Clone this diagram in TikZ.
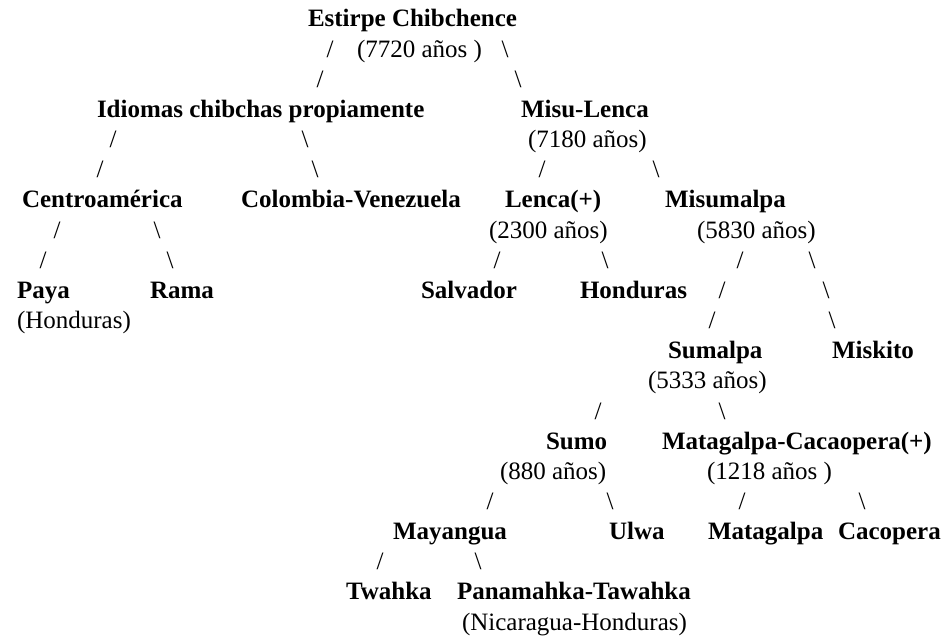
\documentclass[tikz,border=0pt]{standalone}
\usepackage{fontspec}
\setmainfont{Liberation Serif}

\begin{document}
\begin{tikzpicture}[x=1pt, y=-1pt,
  every node/.style = {inner sep=0pt, outer sep=0pt, anchor=base west,
    font=\fontsize{25}{30}\selectfont},
  lang/.style = {font=\fontsize{25}{30}\selectfont\bfseries},
  sl/.style = {anchor=base}]
  \useasboundingbox (0,0) rectangle (944,637);

  % root
  \node[lang] (estirpe) at (308,27) {Estirpe Chibchence};
  \node (estirpe-age) at (357,57.2) {(7720 años )};
  \node[sl] (e1) at (330,57.2) {/};
  \node[sl] (e2) at (505,57.2) {\textbackslash};
  \node[sl] (e3) at (320,87.3) {/};
  \node[sl] (e4) at (518,87.3) {\textbackslash};

  % second level
  \node[lang] (idiomas) at (97,117.5) {Idiomas chibchas propiamente};
  \node[lang] (misu) at (521,117.5) {Misu-Lenca};
  \node (misu-age) at (528,147.6) {(7180 años)};
  \node[sl] (i1) at (113,147.6) {/};
  \node[sl] (i2) at (305,147.6) {\textbackslash};
  \node[sl] (i3) at (100,177.8) {/};
  \node[sl] (i4) at (315,177.8) {\textbackslash};
  \node[sl] (m1) at (542,177.8) {/};
  \node[sl] (m2) at (656,177.8) {\textbackslash};

  % third level
  \node[lang] (centro) at (22,207.9) {Centroamérica};
  \node[lang] (colven) at (241,207.9) {Colombia-Venezuela};
  \node[lang] (lenca) at (505,207.9) {Lenca(+)};
  \node[lang] (misum) at (665,207.9) {Misumalpa};
  \node (lenca-age) at (489,238.1) {(2300 años)};
  \node (misum-age) at (697,238.1) {(5830 años)};
  \node[sl] (c1) at (57,238.1) {/};
  \node[sl] (c2) at (157,238.1) {\textbackslash};
  \node[sl] (c3) at (43,268.2) {/};
  \node[sl] (c4) at (170,268.2) {\textbackslash};
  \node[sl] (l1) at (497,268.2) {/};
  \node[sl] (l2) at (605,268.2) {\textbackslash};
  \node[sl] (ms1) at (740,268.2) {/};
  \node[sl] (ms2) at (812,268.2) {\textbackslash};

  % leaves of the left part
  \node[lang] (paya) at (17,298.4) {Paya};
  \node (paya-loc) at (17,328.5) {(Honduras)};
  \node[lang] (rama) at (150,298.4) {Rama};
  \node[lang] (salv) at (421,298.4) {Salvador};
  \node[lang] (hond) at (580,298.4) {Honduras};
  \node[sl] (ms3) at (722,298.4) {/};
  \node[sl] (ms4) at (826,298.4) {\textbackslash};
  \node[sl] (ms5) at (712,328.5) {/};
  \node[sl] (ms6) at (832,328.5) {\textbackslash};

  % Misumalpa branch
  \node[lang] (sumalpa) at (668,358.7) {Sumalpa};
  \node[lang] (miskito) at (832,358.7) {Miskito};
  \node (sumalpa-age) at (648,388.8) {(5333 años)};
  \node[sl] (sa1) at (598,419) {/};
  \node[sl] (sa2) at (722,419) {\textbackslash};

  \node[lang] (sumo) at (546,449.1) {Sumo};
  \node[lang] (matcac) at (662,449.1) {Matagalpa-Cacaopera(+)};
  \node (sumo-age) at (500,479.3) {(880 años)};
  \node (matcac-age) at (707,479.3) {(1218 años )};
  \node[sl] (su1) at (490,509.4) {/};
  \node[sl] (su2) at (610,509.4) {\textbackslash};
  \node[sl] (mc1) at (742,509.4) {/};
  \node[sl] (mc2) at (862,509.4) {\textbackslash};

  \node[lang] (mayangua) at (393,539.6) {Mayangua};
  \node[lang] (ulwa) at (609,539.6) {Ulwa};
  \node[lang] (matagalpa) at (708,539.6) {Matagalpa};
  \node[lang] (cacopera) at (838,539.6) {Cacopera};
  \node[sl] (ma1) at (380,569.7) {/};
  \node[sl] (ma2) at (478,569.7) {\textbackslash};

  \node[lang] (twahka) at (346,599.9) {Twahka};
  \node[lang] (panam) at (457,599.9) {Panamahka-Tawahka};
  \node (panam-loc) at (462,630) {(Nicaragua-Honduras)};
\end{tikzpicture}
\end{document}
